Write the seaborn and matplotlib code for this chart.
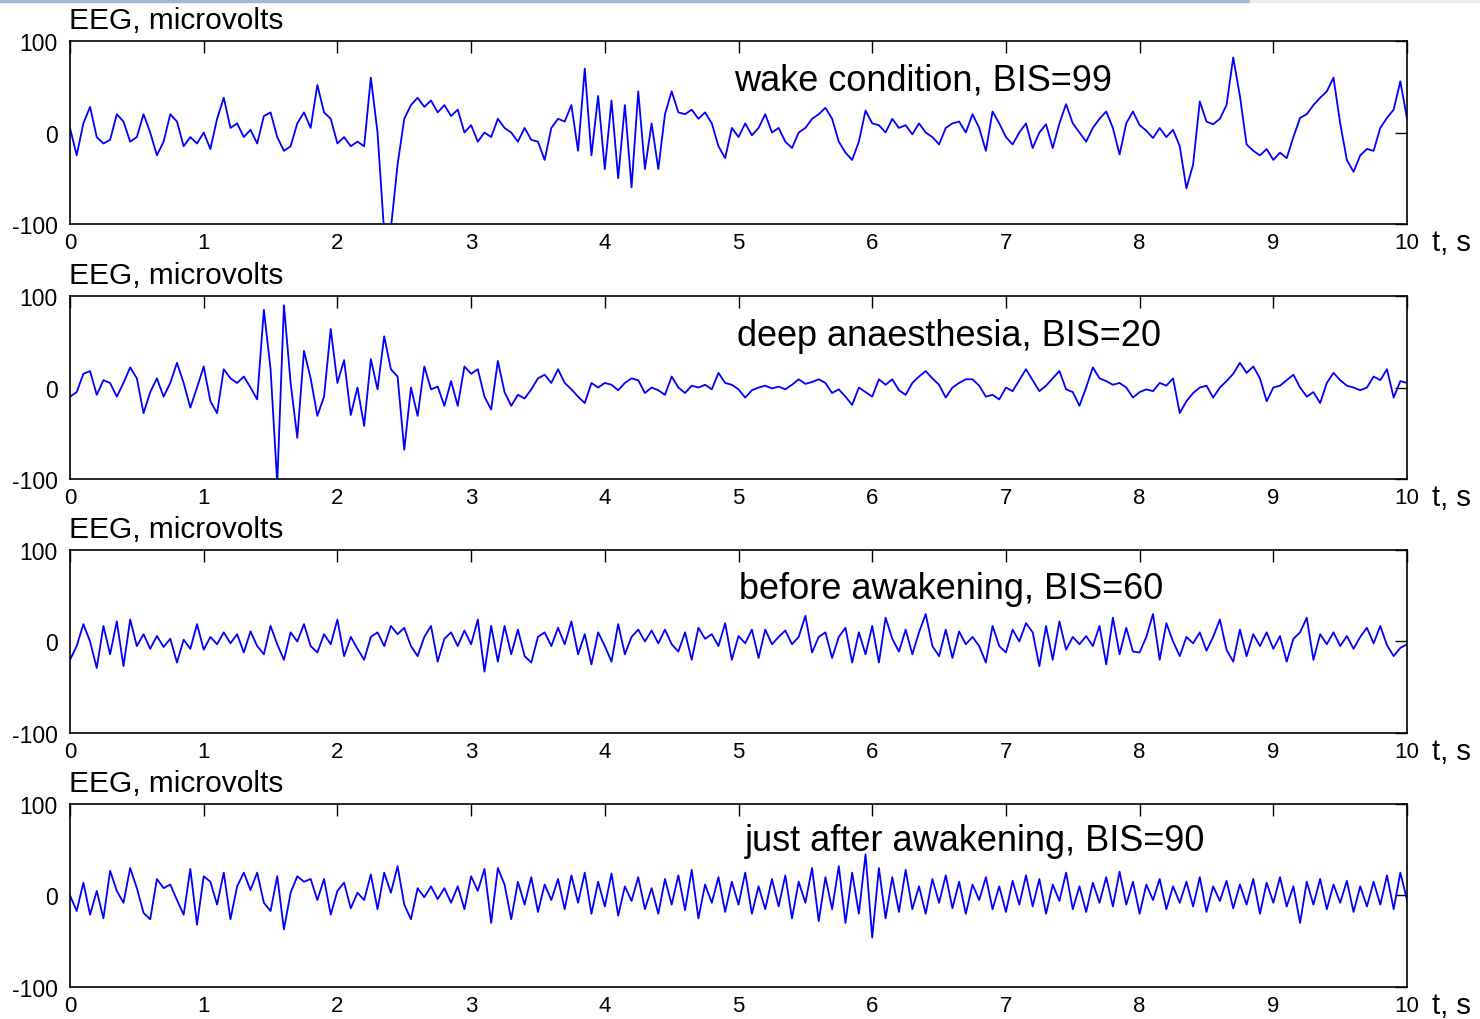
import numpy as np
import pandas as pd
import matplotlib.pyplot as plt
import seaborn as sns
from matplotlib.patches import Rectangle

# Style: plain white axes, MATLAB-like look
sns.set_style('white')
plt.rcParams['font.family'] = ['Liberation Sans', 'DejaVu Sans']
plt.rcParams['axes.unicode_minus'] = False
plt.rcParams['text.color'] = 'black'

# Sample grid: 10 s, one reading every 0.05 s
time_s = np.round(np.arange(201) * 0.05, 2)

# EEG, microvolts (one row = one second)
wake_uv = [
    5, -25, 10, 28, -5, -12, -8, 20, 12, -10, -5, 20, 0, -25, -10, 20, 12, -15, -5, -12,
    0, -18, 15, 38, 5, 10, -5, 3, -12, 18, 22, -5, -20, -15, 10, 22, 5, 52, 22, 15,
    -12, -5, -15, -10, -15, 60, 0, -110, -105, -35, 15, 30, 38, 28, 35, 22, 30, 18, 25, 0,
    8, -10, 0, -5, 15, 5, 0, -10, 5, -8, -10, -30, 5, 15, 12, 30, -20, 70, -25, 40,
    -40, 35, -50, 30, -60, 45, -40, 10, -40, 20, 45, 22, 20, 25, 15, 22, 10, -15, -28, 5,
    -5, 10, -3, 5, 20, 0, 5, -10, -17, 0, 5, 15, 20, 27, 15, -10, -22, -30, -10, 24,
    10, 8, 0, 15, 5, 8, -2, 10, 0, -5, -13, 5, 10, 12, 0, 20, 5, -20, 23, 10,
    -5, -13, 0, 10, -17, 0, 9, -17, 10, 31, 10, 0, -10, 5, 15, 23, 5, -24, 10, 23,
    8, 2, -6, 5, -5, 3, -15, -61, -35, 34, 12, 9, 15, 30, 82, 40, -13, -20, -25, -18,
    -30, -22, -28, -5, 16, 20, 30, 38, 45, 60, 10, -30, -43, -25, -18, -20, 5, 16, 25, 56,
    15,
]
deep_uv = [
    -10, -5, 15, 18, -8, 8, 5, -10, 5, 22, 10, -28, -5, 10, -10, 5, 27, 5, -22, 0,
    23, -15, -28, 20, 10, 5, 12, 0, -13, 85, 20, -105, 90, 5, -55, 40, 10, -31, -10, 64,
    5, 30, -30, 0, -42, 31, -2, 56, 20, 12, -68, 0, -31, 23, -2, 1, -20, 7, -20, 23,
    15, 20, -10, -24, 29, -5, -20, -8, -12, -2, 10, 14, 5, 20, 5, -2, -10, -17, 5, 0,
    5, 3, -3, 5, 10, 8, -6, 0, -3, -8, 12, 0, -6, 2, 0, 3, -2, 16, 5, 3,
    -2, -11, -3, 0, 2, -1, 1, -2, 3, 9, 4, 6, 9, 5, -6, -2, -10, -19, 0, -5,
    -10, 9, 3, 9, -3, -8, 5, 12, 18, 10, 3, -11, 0, 5, 9, 9, 2, -10, -8, -13,
    0, -4, 8, 20, 8, -4, 2, 10, 18, -2, -5, -20, 0, 22, 10, 7, 3, 5, 0, -11,
    -5, -2, -4, 5, 2, 10, -28, -15, -6, 0, 2, -11, 0, 7, 15, 27, 16, 23, 10, -15,
    0, 2, 8, 14, 0, -10, -5, -17, 5, 16, 8, 2, 0, -3, 0, 12, 8, 20, -11, 7,
    5,
]
before_uv = [
    -20, -5, 19, 0, -29, 17, -14, 22, -27, 24, -5, 8, -8, 6, -6, 3, -23, 2, -8, 19,
    -9, 5, -3, 10, -2, 8, -12, 11, -5, -14, 17, -3, -20, 10, 0, 19, -5, -12, 8, -3,
    24, -16, 5, -8, -20, 5, 10, -5, 17, 8, 15, -5, -16, 5, 17, -22, 3, 10, -5, 12,
    -3, 24, -33, 17, -22, 17, -14, 13, -16, -23, 5, 10, -5, 15, -3, 22, -14, 8, -25, 10,
    -5, -22, 19, -14, 5, 13, 0, 12, -2, 13, -3, -11, 10, -20, 15, 3, 8, -5, 20, -20,
    6, -2, 13, -18, 13, -3, 5, 12, -3, 5, 28, -12, 5, 10, -18, 5, 15, -23, 10, -14,
    17, -23, 26, 3, -11, 13, -14, 10, 30, -5, -16, 13, -18, 11, -3, 5, -5, -23, 17, -5,
    -12, 13, 0, 20, 10, -27, 17, -20, 22, -9, 5, -3, 6, -5, 17, -25, 26, -14, 15, -11,
    -12, 5, 30, -20, 20, 0, -16, 5, -2, 10, -10, 5, 24, -9, -22, 13, -16, 8, -5, 10,
    -8, 6, -22, 3, 10, 26, -20, 8, -3, 10, -5, 6, -8, 5, 15, -2, 17, -4, -16, -7,
    -3,
]
after_uv = [
    0, -17, 14, -21, 5, -25, 27, 5, -8, 30, 8, -19, -26, 18, 8, 12, -5, -21, 29, -32,
    21, 15, -10, 25, -26, 10, 25, 6, 25, -8, -17, 21, -37, 3, 21, 15, 18, -5, 18, -21,
    5, 14, -14, 3, -5, 23, -15, 25, 3, 32, -10, -26, 8, -2, 10, -4, 8, -8, 10, -15,
    21, 5, 29, -30, 30, 12, -26, 15, -10, 20, -18, 12, -5, 18, -15, 22, -8, 25, -20, 15,
    -12, 24, -22, 10, -6, 20, -15, 8, -20, 18, -10, 22, -16, 28, -25, 12, -8, 20, -18, 15,
    -10, 25, -20, 10, -15, 18, -12, 22, -25, 15, -8, 30, -28, 20, -15, 32, -30, 25, -20, 45,
    -46, 30, -25, 20, -18, 28, -15, 10, -20, 18, -8, 22, -14, 15, -20, 12, -5, 20, -15, 10,
    -18, 16, -10, 22, -12, 18, -20, 12, -6, 25, -15, 10, -18, 14, -8, 20, -12, 26, -10, 15,
    -20, 12, -5, 18, -15, 10, -8, 15, -12, 20, -18, 10, -6, 16, -14, 12, -10, 18, -20, 14,
    -8, 20, -12, 10, -30, 15, -10, 18, -15, 12, -8, 16, -18, 10, -12, 15, -10, 22, -15, 25,
    -5,
]

series_list = [wake_uv, deep_uv, before_uv, after_uv]
titles = ['wake condition, BIS=99', 'deep anaesthesia, BIS=20',
          'before awakening, BIS=60', 'just after awakening, BIS=90']

fig = plt.figure(figsize=(14.8, 10.2), dpi=100)

# thin window-frame strip along the top edge of the screenshot
fig.patches.append(Rectangle((0, 1 - 3 / 1020), 1250 / 1480, 3 / 1020,
                             transform=fig.transFigure, color='#a3b6d6', zorder=0))
fig.patches.append(Rectangle((1250 / 1480, 1 - 3 / 1020), 230 / 1480, 3 / 1020,
                             transform=fig.transFigure, color='#ececec', zorder=0))

bottoms = [0.7794, 0.5294, 0.2804, 0.0314]
title_x = [4.97, 4.99, 5.0, 5.05]
title_y = [47, 47, 48, 50]

for i, (vals, title) in enumerate(zip(series_list, titles)):
    ax = fig.add_axes([0.0473, bottoms[i], 0.9034, 0.1794])
    df = pd.DataFrame({'t': time_s, 'uv': vals})
    sns.lineplot(data=df, x='t', y='uv', ax=ax, color='#0000ff',
                 linewidth=1.3, estimator=None)
    ax.set_xlim(0, 10)
    ax.set_ylim(-100, 100)
    ax.set_xticks(range(11))
    ax.set_yticks([-100, 0, 100])
    ax.set_xlabel('')
    ax.set_ylabel('')
    ax.tick_params(direction='in', length=8.5, width=1.0, top=True, right=True,
                   colors='black')
    ax.tick_params(axis='x', labelsize=16, pad=6)
    ax.tick_params(axis='y', labelsize=16.5, pad=9)
    for s in ax.spines.values():
        s.set_visible(True)
        s.set_color('black')
        s.set_linewidth(1.2)

    ax.text(title_x[i], title_y[i], title, fontsize=26, ha='left', va='baseline',
            color='black')
    ax.annotate('EEG, microvolts', xy=(0, 1), xycoords='axes fraction',
                xytext=(-1, 9.5), textcoords='offset points', va='baseline',
                fontsize=21.5, color='black', annotation_clip=False)
    ax.annotate('t, s', xy=(10.19, 0), xycoords=('data', 'axes fraction'),
                xytext=(0, -18.5), textcoords='offset points', va='baseline',
                ha='left', fontsize=21, color='black', annotation_clip=False)

plt.savefig('out.png', dpi=100)
plt.close('all')
